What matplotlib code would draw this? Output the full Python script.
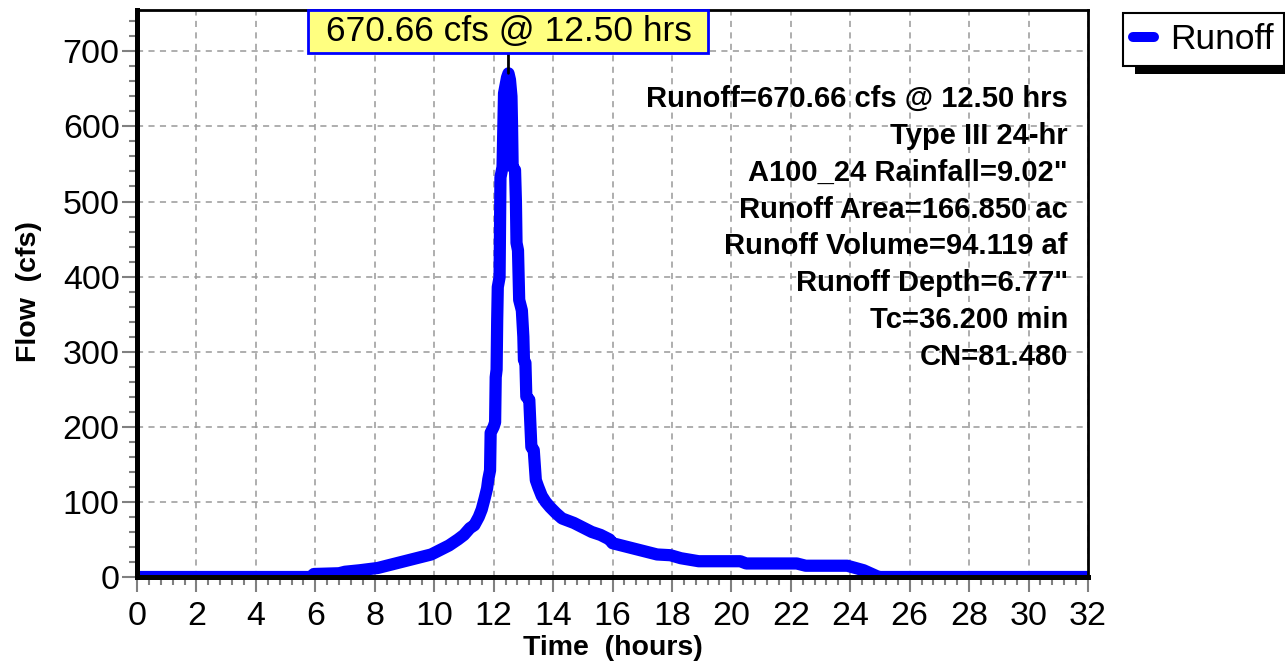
import matplotlib
matplotlib.use("Agg")
import matplotlib.pyplot as plt
from matplotlib.ticker import AutoMinorLocator
from matplotlib.path import Path
from matplotlib.patches import Rectangle
from matplotlib.transforms import IdentityTransform

plt.rcParams['font.family'] = ['Liberation Sans', 'DejaVu Sans']

# ---------------- data ----------------
time_hr = [0, 5.85, 5.95, 6.8, 7.0, 7.5, 7.9, 8.1, 8.5, 9.0, 9.5, 9.9, 10.2, 10.5,
           10.8, 11.0, 11.2, 11.35, 11.5, 11.6, 11.7, 11.78, 11.82, 11.88, 11.9,
           12.0, 12.05, 12.07, 12.1, 12.12, 12.14, 12.2, 12.23, 12.3, 12.35, 12.45,
           12.5, 12.55, 12.6, 12.62, 12.64, 12.72, 12.75, 12.77, 12.82, 12.86, 12.95,
           13.0, 13.02, 13.07, 13.1, 13.2, 13.24, 13.27, 13.35, 13.42, 13.5, 13.62,
           13.75, 13.9, 14.1, 14.3, 14.7, 15.0, 15.3, 15.6, 15.9, 16.0, 16.7, 17.5,
           17.95, 18.3, 18.9, 20.3, 20.5, 22.2, 22.5, 23.9, 24.45, 24.9, 25.0, 32.0]
flow_cfs = [0, 0, 4, 5, 7, 9, 11, 12, 16, 21, 26, 30, 36, 42,
            50, 56, 65, 69, 80, 90, 105, 118, 130, 142, 192,
            200, 206, 266, 276, 342, 386, 399, 532, 546, 644, 665,
            670.66, 662, 640, 600, 546, 542, 500, 445, 435, 369, 355,
            320, 289, 285, 240, 236, 200, 173, 169, 129, 120, 108,
            100, 93, 85, 78, 72, 66, 60, 56, 50, 45, 38, 30,
            29, 25, 21, 21, 18, 18, 15, 15, 9, 1, 0, 0]

peak_t = 12.50
peak_q = 670.66
peak_label = "670.66 cfs @ 12.50 hrs"

x_ticks = list(range(0, 33, 2))
y_ticks = list(range(0, 701, 100))

info_lines = [
    "Runoff=670.66 cfs @ 12.50 hrs",
    "Type III 24-hr",
    "A100_24 Rainfall=9.02\"",
    "Runoff Area=166.850 ac",
    "Runoff Volume=94.119 af",
    "Runoff Depth=6.77\"",
    "Tc=36.200 min",
    "CN=81.480",
]

series_name = "Runoff"
x_label = "Time  (hours)"
y_label = "Flow  (cfs)"

# ---------------- figure ----------------
W, H = 1285, 664
fig = plt.figure(figsize=(W / 100, H / 100), dpi=100)
ax = fig.add_axes([137 / W, 1 - 577 / H, (1088 - 137) / W, (577 - 10) / H])

line, = ax.plot(time_hr, flow_cfs, color='#0000ff', lw=8.8,
                solid_joinstyle='round', solid_capstyle='round',
                label=series_name, zorder=2)

ax.set_xlim(0, 32)
ax.set_ylim(0, 755)
ax.set_xticks(x_ticks)
ax.set_yticks(y_ticks)
ax.xaxis.set_minor_locator(AutoMinorLocator(5))
ax.yaxis.set_minor_locator(AutoMinorLocator(5))

ax.tick_params(which='major', direction='out', length=11, width=1.5,
               color='#808080', labelsize=24.5, labelcolor='black')
ax.tick_params(axis='x', which='major', pad=6)
ax.tick_params(axis='y', which='major', pad=1.5)
ax.tick_params(which='minor', direction='out', length=5.5, width=1.5,
               color='#808080')

ax.grid(which='major', color='#999999', linestyle=(0, (4, 3.5)), lw=1.1)
ax.set_axisbelow(True)

for s in ['left', 'bottom']:
    ax.spines[s].set_linewidth(3.6)
for s in ['top', 'right']:
    ax.spines[s].set_linewidth(2.0)
for s in ax.spines.values():
    s.set_color('black')

ax.set_xlabel(x_label, fontsize=20.5, fontweight='bold')
ax.xaxis.label.set_va('center')
ax.xaxis.set_label_coords(0.5, (577 - 648) / 567)
ax.set_ylabel(y_label, fontsize=20.5, fontweight='bold')
ax.yaxis.label.set_va('center')
ax.yaxis.set_label_coords((28.5 - 137) / 951, 0.503)

# peak annotation box
def peak_box(x0, y0, width, height, mutation_size):
    px = (400 - width) / 2
    py = (43 - height) / 2
    return Path([(x0 - px, y0 - py), (x0 + width + px, y0 - py),
                 (x0 + width + px, y0 + height + py), (x0 - px, y0 + height + py),
                 (x0 - px, y0 - py)], closed=True)

ax.annotate(peak_label, xy=(peak_t, peak_q), xytext=(peak_t, H - 31.5),
            textcoords=('data', 'figure pixels'), ha='center', va='center',
            fontsize=25.5,
            bbox=dict(boxstyle=peak_box, fc='#ffff80', ec='#0000ff', lw=2),
            arrowprops=dict(arrowstyle='-', color='black', lw=2,
                            shrinkA=0, shrinkB=0),
            annotation_clip=False, zorder=6)

# info text block
for i, txt in enumerate(info_lines):
    fig.text(1068 / W, 1 - (107 + i * 36.86) / H, txt, ha='right',
             va='baseline', fontsize=21, fontweight='bold')

# legend with drop shadow
leg = fig.legend(handles=[line], labels=[series_name], loc='upper left',
                 bbox_to_anchor=(1123 / W, 1 - 13 / H),
                 bbox_transform=fig.transFigure, frameon=True, fancybox=False,
                 edgecolor='black', framealpha=1, fontsize=25.5,
                 handlelength=0.6, handletextpad=0.45, borderpad=0.28,
                 borderaxespad=0)
leg.get_frame().set_linewidth(1.5)
leg.set_zorder(5)
for lh in leg.get_lines():
    lh.set_linewidth(7.2)

fig.canvas.draw()
bb = leg.get_window_extent()
shadow = Rectangle((bb.x0 + 12, bb.y0 - 8), bb.width, bb.height,
                   transform=IdentityTransform(), fc='black', ec='none', zorder=4)
fig.add_artist(shadow)

fig.savefig('out.png', dpi=100)
